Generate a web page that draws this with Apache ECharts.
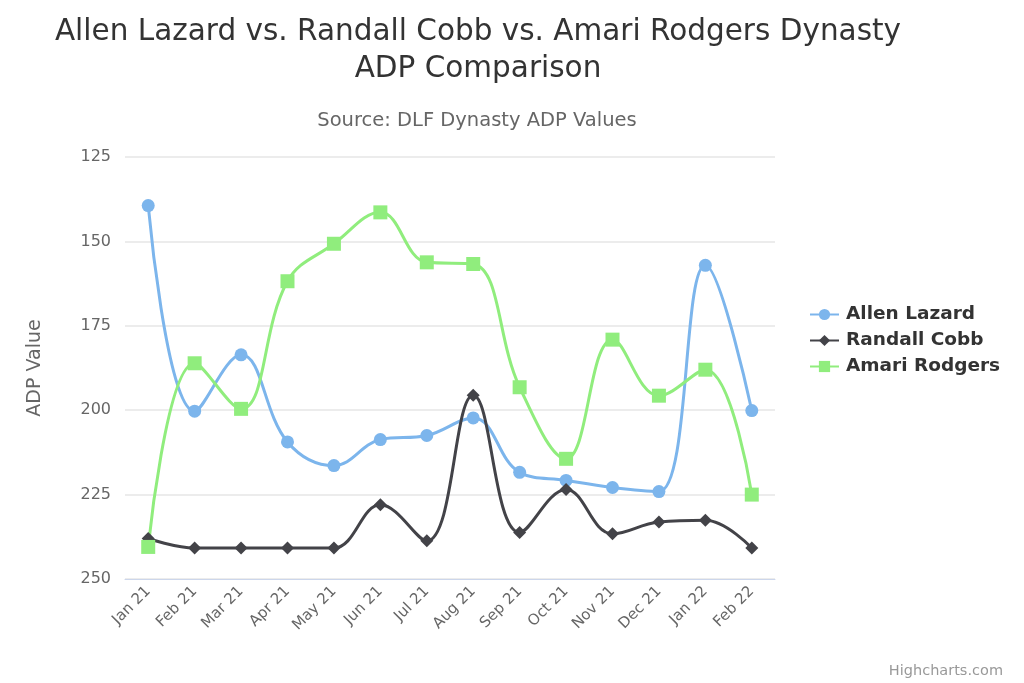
<!DOCTYPE html>
<html>
<head>
<meta charset="utf-8">
<script src="https://cdn.jsdelivr.net/npm/echarts@6/dist/echarts.min.js"></script>
<style>html,body{margin:0;padding:0;background:#fff}#c{width:1024px;height:683px}</style>
</head>
<body>
<div id="c"></div>
<script>
const categories = ['Jan 21','Feb 21','Mar 21','Apr 21','May 21','Jun 21','Jul 21','Aug 21','Sep 21','Oct 21','Nov 21','Dec 21','Jan 22','Feb 22'];
const allenLazard = [139.4, 200.3, 183.6, 209.4, 216.4, 208.7, 207.5, 202.3, 218.4, 220.8, 222.9, 224.1, 157.1, 200.1];
const randallCobb = [238, 240.8, 240.8, 240.8, 240.8, 228, 238.7, 195.6, 236.2, 223.5, 236.6, 233.1, 232.6, 240.8];
const amariRodgers = [240.5, 186.1, 199.6, 161.8, 150.7, 141.4, 156.2, 156.7, 193.2, 214.4, 179.1, 195.7, 188, 225];
const yTicks = [125, 150, 175, 200, 225, 250];

const FONT = 'DejaVu Sans';
const chart = echarts.init(document.getElementById('c'), null, {renderer: 'canvas'});
function mk(name, data, color, symbol, size) {
  return {
    name, type: 'line', data, smooth: 0.4, symbol, symbolSize: size,
    lineStyle: {color, width: 3}, itemStyle: {color},
    emphasis: {disabled: true}
  };
}
chart.setOption({
  animation: false,
  textStyle: {fontFamily: FONT},
  title: [
    {text: 'Allen Lazard vs. Randall Cobb vs. Amari Rodgers Dynasty\nADP Comparison',
     left: 473, top: 9, textAlign: 'center',
     textStyle: {fontFamily: FONT, fontSize: 29.5, fontWeight: 'normal', color: '#333', lineHeight: 37}},
    {text: 'Source: DLF Dynasty ADP Values', left: 472, top: 106, textAlign: 'center',
     textStyle: {fontFamily: FONT, fontSize: 19.5, fontWeight: 'normal', color: '#666'}},
    {text: 'Highcharts.com', right: 16, top: 659,
     textStyle: {fontFamily: FONT, fontSize: 14.5, fontWeight: 'normal', color: '#999'}}
  ],
  legend: {
    orient: 'vertical', left: 804, top: 300, itemGap: 7, itemWidth: 29, itemHeight: 14,
    textStyle: {fontFamily: FONT, fontSize: 18.5, fontWeight: 'bold', color: '#333', padding: [0, 0, 0, 2]},
    data: ['Allen Lazard', 'Randall Cobb', 'Amari Rodgers']
  },
  grid: {left: 125, right: 249, top: 157, bottom: 104},
  xAxis: {
    type: 'category', data: categories, boundaryGap: true,
    axisLine: {lineStyle: {color: '#ccd6eb'}},
    axisTick: {show: false},
    axisLabel: {rotate: 45, fontFamily: FONT, fontSize: 15, color: '#666', margin: 10, interval: 0}
  },
  yAxis: {
    type: 'value', inverse: true, min: 125, max: 250, interval: 25,
    name: 'ADP Value', nameLocation: 'middle', nameGap: 80, nameRotate: 90,
    nameTextStyle: {fontFamily: FONT, fontSize: 19, color: '#666'},
    axisLine: {show: false}, axisTick: {show: false},
    axisLabel: {fontFamily: FONT, fontSize: 16, color: '#666', margin: 14,
      formatter: v => yTicks.includes(v) ? String(v) : ''},
    splitLine: {lineStyle: {color: '#e6e6e6', width: 1.5}}
  },
  series: [
    mk('Allen Lazard', allenLazard, '#7cb5ec', 'circle', 13),
    mk('Randall Cobb', randallCobb, '#434348', 'diamond', 13),
    mk('Amari Rodgers', amariRodgers, '#90ed7d', 'rect', 14)
  ]
});
</script>
</body>
</html>
